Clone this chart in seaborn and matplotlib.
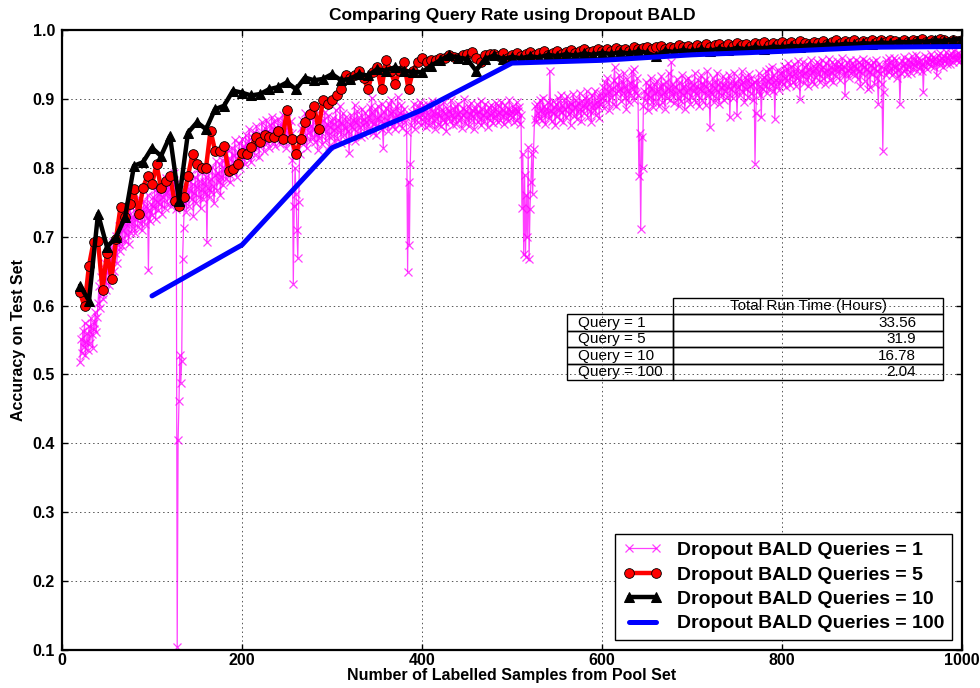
import numpy as np
import pandas as pd
import matplotlib
matplotlib.use("Agg")
import matplotlib.pyplot as plt
import seaborn as sns

# Test accuracy (per mille) with one point acquired per step, samples 20 .. 1000
acc_q1 = [
    518, 552, 531, 563, 540, 575, 528, 547, 560, 536, 571, 545, 582, 558, 539, 574, 566, 590, 561, 584,
    603, 628, 596, 641, 617, 652, 609, 635, 662, 622, 648, 671, 630, 657, 685, 641, 668, 692, 650, 676,
    701, 662, 688, 715, 679, 697, 724, 686, 709, 731, 693, 718, 702, 737, 690, 721, 744, 706, 729, 712,
    738, 705, 726, 749, 714, 733, 756, 720, 741, 709, 735, 752, 718, 744, 727, 760, 651, 739, 723, 748,
    731, 757, 742, 768, 725, 751, 774, 738, 762, 747, 779, 733, 758, 770, 741, 765, 785, 748, 772, 756,
    769, 744, 781, 757, 792, 752, 776, 740, 105, 405, 461, 528, 488, 520, 668, 712, 748, 771, 736, 760,
    782, 745, 768, 791, 754, 777, 730, 763, 786, 749, 772, 798, 758, 781, 741, 769, 794, 755, 779, 762,
    787, 692, 771, 796, 757, 783, 765, 801, 774, 749, 789, 810, 768, 793, 779, 805, 760, 786, 812, 775,
    798, 820, 783, 807, 826, 791, 814, 779, 803, 829, 795, 818, 840, 806, 787, 823, 811, 836, 799, 825,
    842, 813, 831, 805, 848, 826, 817, 839, 856, 822, 808, 845, 830, 852, 819, 837, 861, 828, 846, 815,
    850, 833, 866, 841, 824, 858, 845, 870, 836, 853, 829, 862, 847, 874, 838, 855, 868, 832, 859, 843,
    871, 848, 835, 863, 852, 877, 840, 866, 855, 829, 872, 845, 861, 838, 868, 850, 812, 632, 745, 800,
    762, 710, 669, 750, 820, 858, 841, 869, 835, 862, 880, 847, 828, 866, 852, 874, 839, 861, 845, 883,
    856, 838, 871, 849, 826, 864, 843, 878, 852, 834, 869, 857, 881, 840, 863, 848, 875, 831, 859, 867,
    846, 872, 855, 838, 884, 861, 843, 870, 852, 889, 836, 865, 879, 848, 858, 873, 841, 868, 854, 821,
    862, 877, 845, 869, 856, 891, 839, 866, 883, 850, 873, 859, 845, 886, 862, 871, 848, 880, 866, 853,
    875, 858, 888, 866, 902, 851, 879, 863, 885, 847, 871, 890, 859, 876, 868, 893, 857, 829, 881, 864,
    887, 870, 854, 892, 866, 879, 898, 861, 883, 872, 856, 889, 875, 903, 864, 880, 869, 891, 858, 877,
    885, 866, 874, 852, 649, 780, 688, 806, 862, 881, 870, 893, 857, 884, 876, 866, 889, 873, 895, 862,
    878, 891, 868, 884, 859, 876, 893, 870, 862, 886, 874, 897, 865, 881, 857, 888, 872, 879, 863, 890,
    876, 861, 884, 870, 895, 866, 879, 853, 887, 873, 882, 868, 899, 877, 862, 885, 871, 890, 864, 878,
    893, 869, 881, 874, 858, 887, 876, 900, 865, 883, 871, 889, 860, 878, 894, 869, 884, 875, 857, 886,
    879, 892, 866, 881, 871, 897, 862, 885, 877, 868, 893, 874, 883, 859, 888, 876, 869, 891, 880, 865,
    887, 872, 894, 878, 866, 889, 881, 870, 896, 875, 884, 863, 891, 879, 872, 886, 868, 898, 877, 883,
    874, 890, 867, 885, 879, 895, 870, 882, 888, 864, 877, 741, 820, 675, 790, 671, 760, 700, 830, 668,
    740, 780, 820, 762, 827, 871, 889, 866, 893, 880, 872, 898, 884, 869, 902, 877, 890, 863, 886, 879,
    895, 872, 941, 883, 868, 897, 879, 888, 862, 893, 875, 901, 884, 870, 906, 881, 891, 867, 899, 886,
    873, 904, 889, 878, 896, 862, 892, 883, 907, 875, 888, 899, 871, 894, 880, 909, 885, 868, 897, 890,
    879, 902, 888, 911, 874, 893, 900, 882, 867, 905, 891, 884, 912, 877, 896, 889, 903, 872, 908, 893,
    901, 917, 887, 924, 906, 896, 930, 912, 884, 920, 903, 915, 893, 927, 946, 908, 889, 922, 911, 935,
    914, 897, 926, 909, 937, 902, 918, 885, 929, 911, 895, 923, 906, 940, 915, 943, 899, 920, 908, 931,
    905, 788, 850, 711, 845, 800, 890, 912, 898, 925, 907, 884, 919, 903, 931, 895, 916, 888, 922, 909,
    897, 926, 911, 889, 918, 904, 933, 896, 921, 910, 886, 924, 902, 915, 938, 899, 913, 953, 905, 921,
    894, 917, 908, 929, 901, 889, 923, 912, 897, 934, 906, 919, 885, 927, 910, 900, 931, 916, 893, 924,
    903, 920, 911, 937, 895, 918, 906, 928, 889, 915, 934, 898, 922, 909, 927, 891, 918, 940, 905, 913,
    859, 921, 907, 930, 896, 916, 925, 902, 938, 910, 893, 924, 917, 906, 933, 899, 920, 912, 928, 903,
    919, 935, 873, 914, 926, 901, 920, 938, 908, 923, 876, 917, 930, 905, 921, 940, 911, 924, 896, 932,
    914, 928, 903, 936, 918, 909, 931, 921, 898, 925, 806, 880, 927, 912, 937, 905, 919, 873, 929, 915,
    932, 918, 941, 909, 926, 944, 915, 930, 921, 947, 912, 935, 871, 928, 919, 942, 924, 913, 937, 926,
    939, 922, 948, 931, 917, 944, 928, 952, 936, 920, 946, 933, 925, 950, 938, 919, 943, 930, 955, 927,
    900, 941, 934, 953, 923, 947, 937, 929, 951, 918, 944, 935, 956, 926, 940, 948, 921, 945, 932, 954,
    936, 950, 924, 943, 957, 931, 947, 939, 922, 952, 941, 934, 958, 928, 946, 937, 953, 925, 944, 949,
    933, 955, 940, 948, 927, 951, 943, 959, 936, 947, 905, 938, 954, 942, 930, 956, 945, 937, 952, 941,
    948, 935, 957, 944, 929, 953, 940, 918, 950, 937, 958, 946, 926, 955, 943, 915, 952, 939, 917, 949,
    936, 954, 945, 921, 957, 941, 930, 893, 950, 938, 947, 922, 825, 910, 944, 956, 934, 951, 940, 959,
    942, 953, 935, 948, 960, 939, 946, 957, 931, 950, 944, 893, 937, 955, 948, 961, 940, 952, 945, 936,
    958, 947, 954, 938, 962, 950, 943, 956, 949, 964, 941, 953, 959, 946, 955, 940, 951, 910, 948, 962,
    953, 944, 960, 951, 957, 965, 948, 955, 961, 946, 958, 952, 934, 963, 956, 949, 966, 954, 960, 947,
    962, 955, 968, 951, 959, 964, 957, 950, 966, 961, 953, 969, 958, 963, 956, 967, 960, 954, 965, 962,
    958,
]
x_q1 = list(range(20, 1001, 1))

# Five points acquired per step
x_q5 = list(range(20, 1001, 5))
acc_q5 = [
    619, 599, 658, 692, 694, 622, 677, 639, 697, 743,
    728, 747, 769, 733, 771, 788, 776, 805, 771, 781,
    788, 752, 745, 757, 788, 820, 806, 800, 800, 854,
    825, 825, 832, 796, 798, 806, 822, 820, 830, 844,
    838, 848, 844, 845, 854, 842, 884, 842, 820, 842,
    866, 878, 889, 857, 898, 893, 899, 905, 915, 934,
    931, 934, 940, 931, 914, 939, 946, 914, 956, 941,
    922, 941, 953, 914, 941, 953, 959, 953, 957, 957,
    960, 959, 963, 961, 960, 963, 965, 968, 960, 953,
    963, 965, 965,
    962, 966, 960, 964, 967, 962, 965, 968, 963, 966,
    969, 964, 967, 970, 965, 968, 971, 966, 969, 972,
    968, 970, 973, 969, 972, 970, 974, 971, 973, 970,
    975, 972, 974, 976, 972, 975, 977, 973, 976, 974,
    978, 975, 977, 974, 978, 976, 979, 975, 978, 980,
    976, 979, 977, 981, 978, 980, 977, 981, 979, 982,
    978, 981, 980, 983, 979, 982, 980, 984, 981, 979,
    983, 981, 984, 980, 983, 985, 981, 984, 982, 985,
    981, 984, 982, 986, 983, 985, 982, 986, 984, 981,
    985, 983, 986, 984, 987, 983, 986, 984, 987, 985,
    983, 986, 984, 985,
]

# Ten points acquired per step
x_q10 = list(range(20, 1001, 10))
acc_q10 = [
    629, 607, 733, 685, 699, 728, 803, 808, 829, 817,
    846, 752, 851, 866, 856, 885, 890, 912, 909, 905,
    907, 914, 917, 924, 914, 931, 927, 929, 936, 927,
    929, 936, 934, 943, 941, 946, 941, 939, 939, 948,
    956, 963, 960, 958, 941, 958, 963, 958, 961, 959,
    962, 960, 964, 962, 965, 963, 966, 964, 967, 965,
    968, 966, 969, 967, 962, 970, 968, 971, 969, 972,
    970, 973, 971, 974, 972, 975, 973, 976, 975, 977,
    976, 978, 977, 979, 978, 980, 979, 981, 980, 982,
    981, 983, 982, 984, 983, 985, 984, 986, 987,
]

# One hundred points acquired per step
x_q100 = list(range(100, 1001, 100))
acc_q100 = [614, 688, 829, 884, 952, 956, 964, 969, 975, 976]

series_labels = [
    "Dropout BALD Queries = 1",
    "Dropout BALD Queries = 5",
    "Dropout BALD Queries = 10",
    "Dropout BALD Queries = 100",
]

table_rows = ["Query = 1", "Query = 5", "Query = 10", "Query = 100"]
table_header = "Total Run Time (Hours)"
run_time_hours = ["33.56", "31.9", "16.78", "2.04"]

assert len(acc_q1) == len(x_q1)
assert len(acc_q5) == len(x_q5)
assert len(acc_q10) == len(x_q10)
assert len(acc_q100) == len(x_q100)

sns.set_style("ticks")
plt.rcParams.update({
    "font.family": ["Liberation Sans", "DejaVu Sans"],
    "font.weight": "bold",
    "axes.labelweight": "bold",
    "axes.titleweight": "bold",
    "xtick.direction": "in",
    "ytick.direction": "in",
    "xtick.top": True,
    "ytick.right": True,
    "xtick.color": "black",
    "ytick.color": "black",
    "axes.edgecolor": "black",
    "text.color": "black",
    "axes.labelcolor": "black",
})

fig = plt.figure(figsize=(9.8, 6.88), dpi=100)
ax = fig.add_axes([62 / 980, 38 / 688, 900 / 980, 620 / 688])

def frame(x, acc):
    return pd.DataFrame({"samples": x, "accuracy": np.asarray(acc) / 1000.0})

d1 = frame(x_q1, acc_q1)
d5 = frame(x_q5, acc_q5)
d10 = frame(x_q10, acc_q10)
d100 = frame(x_q100, acc_q100)

sns.lineplot(data=d1, x="samples", y="accuracy", ax=ax, estimator=None, sort=False,
             color="#ff00ff", lw=0.9, alpha=0.75, marker="x", markersize=6,
             markeredgewidth=0.9, markeredgecolor="#ff00ff", label=series_labels[0])
sns.lineplot(data=d5, x="samples", y="accuracy", ax=ax, estimator=None, sort=False,
             color="red", lw=3.2, marker="o", markersize=7, markerfacecolor="red",
             markeredgecolor="black", markeredgewidth=0.6, label=series_labels[1])
sns.lineplot(data=d10, x="samples", y="accuracy", ax=ax, estimator=None, sort=False,
             color="black", lw=3.2, marker="^", markersize=7, markerfacecolor="black",
             markeredgecolor="black", label=series_labels[2])
sns.lineplot(data=d100, x="samples", y="accuracy", ax=ax, estimator=None, sort=False,
             color="#0000ff", lw=3.6, label=series_labels[3])

ax.set_xlim(0, 1000)
ax.set_ylim(0.1, 1.0)
ax.set_xticks(np.arange(0, 1001, 200))
ax.set_yticks(np.arange(0.1, 1.001, 0.1))
ax.set_yticklabels([f"{v:.1f}" for v in np.arange(0.1, 1.001, 0.1)])
ax.tick_params(axis="both", labelsize=11.5, length=4, width=1)
ax.tick_params(axis="y", pad=5)
ax.tick_params(axis="x", pad=2.5)
for lab in ax.get_xticklabels() + ax.get_yticklabels():
    lab.set_fontweight("bold")
for sp in ax.spines.values():
    sp.set_linewidth(1.6)
    sp.set_color("black")

ax.grid(True, color="#555555", linestyle=(0, (1.5, 3)), linewidth=0.7)
ax.set_axisbelow(True)

ax.set_title("Comparing Query Rate using Dropout BALD", fontsize=12.5, fontweight="bold", pad=7)
ax.set_xlabel("Number of Labelled Samples from Pool Set", fontsize=11.5, fontweight="bold", labelpad=0)
ax.set_ylabel("Accuracy on Test Set", fontsize=11.5, fontweight="bold", labelpad=5)

leg = ax.legend(loc="lower right", prop={"weight": "bold", "size": 14}, fancybox=False,
                framealpha=1, edgecolor="black", numpoints=2, labelspacing=0.35,
                borderaxespad=0.5, handlelength=2.0, handletextpad=0.8)
leg.get_frame().set_linewidth(1.0)

tbl = ax.table(cellText=[[r, v] for r, v in zip(table_rows, run_time_hours)],
               colLabels=["", table_header], colWidths=[106, 270],
               cellLoc="right", colLoc="center",
               bbox=[0.561, 0.435, 0.418, 0.133])
tbl.auto_set_font_size(False)
tbl.set_fontsize(11)
for (r, c), cell in tbl.get_celld().items():
    cell.set_facecolor("none")
    cell.set_edgecolor("black")
    cell.set_linewidth(1.0)
    cell.get_text().set_fontweight("normal")
    if r == 0 and c == 0:
        cell.set_visible(False)
    elif c == 0:
        cell.get_text().set_horizontalalignment("left")

fig.savefig("out.png", dpi=100)
